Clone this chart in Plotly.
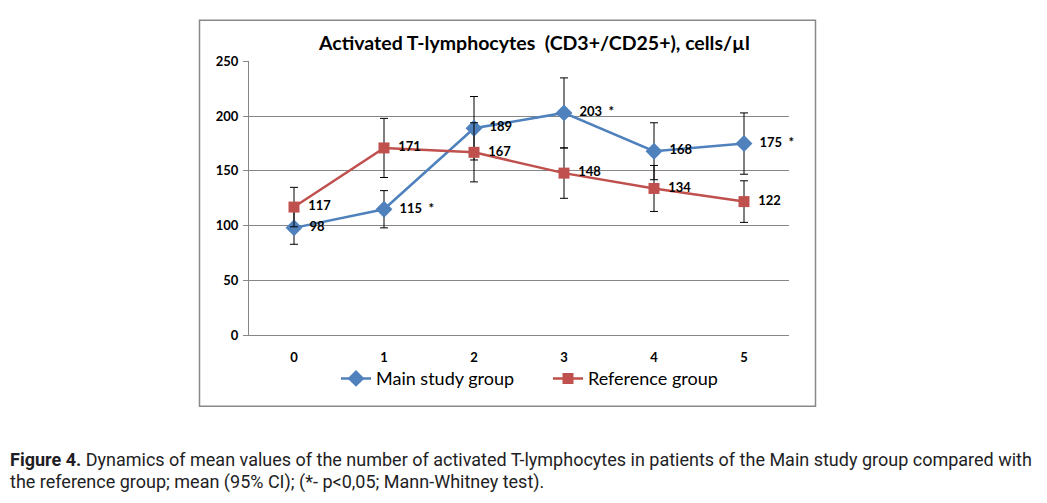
import plotly.graph_objects as go

# page body has an 8px margin: figure is placed at (8, 8)
OFF = 8
W, H = 1047 - 2 * OFF, 503 - 2 * OFF

time_points = ["0", "1", "2", "3", "4", "5"]
main_mean = [98, 115, 189, 203, 168, 175]
main_ci = [15, 17, 29, 32, 26, 28]
main_sig = [False, True, False, True, False, True]
ref_mean = [117, 171, 167, 148, 134, 122]
ref_ci = [18, 27, 27, 23, 21, 19]
ref_sig = [False, False, False, False, False, False]
y_ticks = [0, 50, 100, 150, 200, 250]

title_text = "Activated T-lymphocytes  (CD3+/CD25+), cells/µl"
caption_l1 = ("<b>Figure 4.</b> Dynamics of mean values of the number of activated T-lymphocytes "
              "in patients of the Main study group compared with")
caption_l2 = "the reference group; mean (95% CI); (*- p<0,05; Mann-Whitney test)."

BLUE = "#4F81BD"
RED = "#C0504D"
FONT = "Lato"
CAP_FONT = "Roboto"


def labels(vals, sig):
    return [f"{v}  *" if s else f"{v}" for v, s in zip(vals, sig)]


def px_x(p):
    return (p - OFF) / W


def px_y(p):
    return 1 - (p - OFF) / H


fig = go.Figure()
fig.add_trace(go.Scatter(
    x=time_points, y=main_mean, name="Main study group",
    mode="lines+markers+text", cliponaxis=False,
    line=dict(color=BLUE, width=2.5),
    marker=dict(symbol="diamond", size=13, color=BLUE),
    error_y=dict(type="data", array=main_ci, color="black", thickness=1, width=4),
    text=labels(main_mean, main_sig), textposition="middle right",
    texttemplate="  %{text}",
    textfont=dict(family=FONT, size=13, color="black", weight="bold"),
))
fig.add_trace(go.Scatter(
    x=time_points, y=ref_mean, name="Reference group",
    mode="lines+markers+text", cliponaxis=False,
    line=dict(color=RED, width=2.5),
    marker=dict(symbol="square", size=11, color=RED),
    error_y=dict(type="data", array=ref_ci, color="black", thickness=1, width=4),
    text=labels(ref_mean, ref_sig), textposition="middle right",
    texttemplate="  %{text}",
    textfont=dict(family=FONT, size=13, color="black", weight="bold"),
))

fig.update_layout(
    width=W, height=H,
    margin=dict(l=0, r=0, t=0, b=0),
    paper_bgcolor="white", plot_bgcolor="white",
    font=dict(family=FONT, color="black"),
    showlegend=True,
    legend=dict(orientation="h", x=px_x(336), y=px_y(383), xanchor="left", yanchor="middle",
                font=dict(family=FONT, size=18, color="black"),
                entrywidth=167, entrywidthmode="pixels", bgcolor="rgba(0,0,0,0)",
                itemclick=False),
    xaxis=dict(domain=[px_x(249), px_x(789)], type="category", range=[-0.5, 5.5],
               showgrid=False, showline=True, linecolor="#868686", linewidth=1,
               ticks="", tickfont=dict(family=FONT, size=13, color="black", weight="bold"),
               ticklabelstandoff=10, fixedrange=True),
    yaxis=dict(domain=[px_y(338), px_y(55)], range=[0, 250], tickvals=y_ticks,
               showgrid=True, gridcolor="#868686", gridwidth=1,
               showline=True, linecolor="#868686", linewidth=1,
               ticks="outside", ticklen=5, tickcolor="#868686",
               tickfont=dict(family=FONT, size=13, color="black", weight="bold"),
               ticklabelstandoff=2,
               zeroline=False, fixedrange=True),
)

# chart frame
fig.add_shape(type="rect", xref="paper", yref="paper",
              x0=px_x(199.5), x1=px_x(815.5), y0=px_y(411.5), y1=px_y(12.5),
              line=dict(color="#888888", width=1.5), layer="below")

fig.add_annotation(text=f"<b>{title_text}</b>", xref="paper", yref="paper",
                   x=px_x(534), y=px_y(35), xanchor="center", yanchor="middle",
                   showarrow=False, font=dict(family=FONT, size=19.5, color="black"))

fig.add_annotation(text=caption_l1, xref="paper", yref="paper",
                   x=px_x(8), y=px_y(467), xanchor="left", yanchor="middle",
                   showarrow=False,
                   font=dict(family=CAP_FONT, size=18, color="#1e1e24"))
fig.add_annotation(text=caption_l2, xref="paper", yref="paper",
                   x=px_x(8), y=px_y(490), xanchor="left", yanchor="middle",
                   showarrow=False,
                   font=dict(family=CAP_FONT, size=18, color="#1e1e24"))

fig.write_html("out.html", config={"displayModeBar": False})
